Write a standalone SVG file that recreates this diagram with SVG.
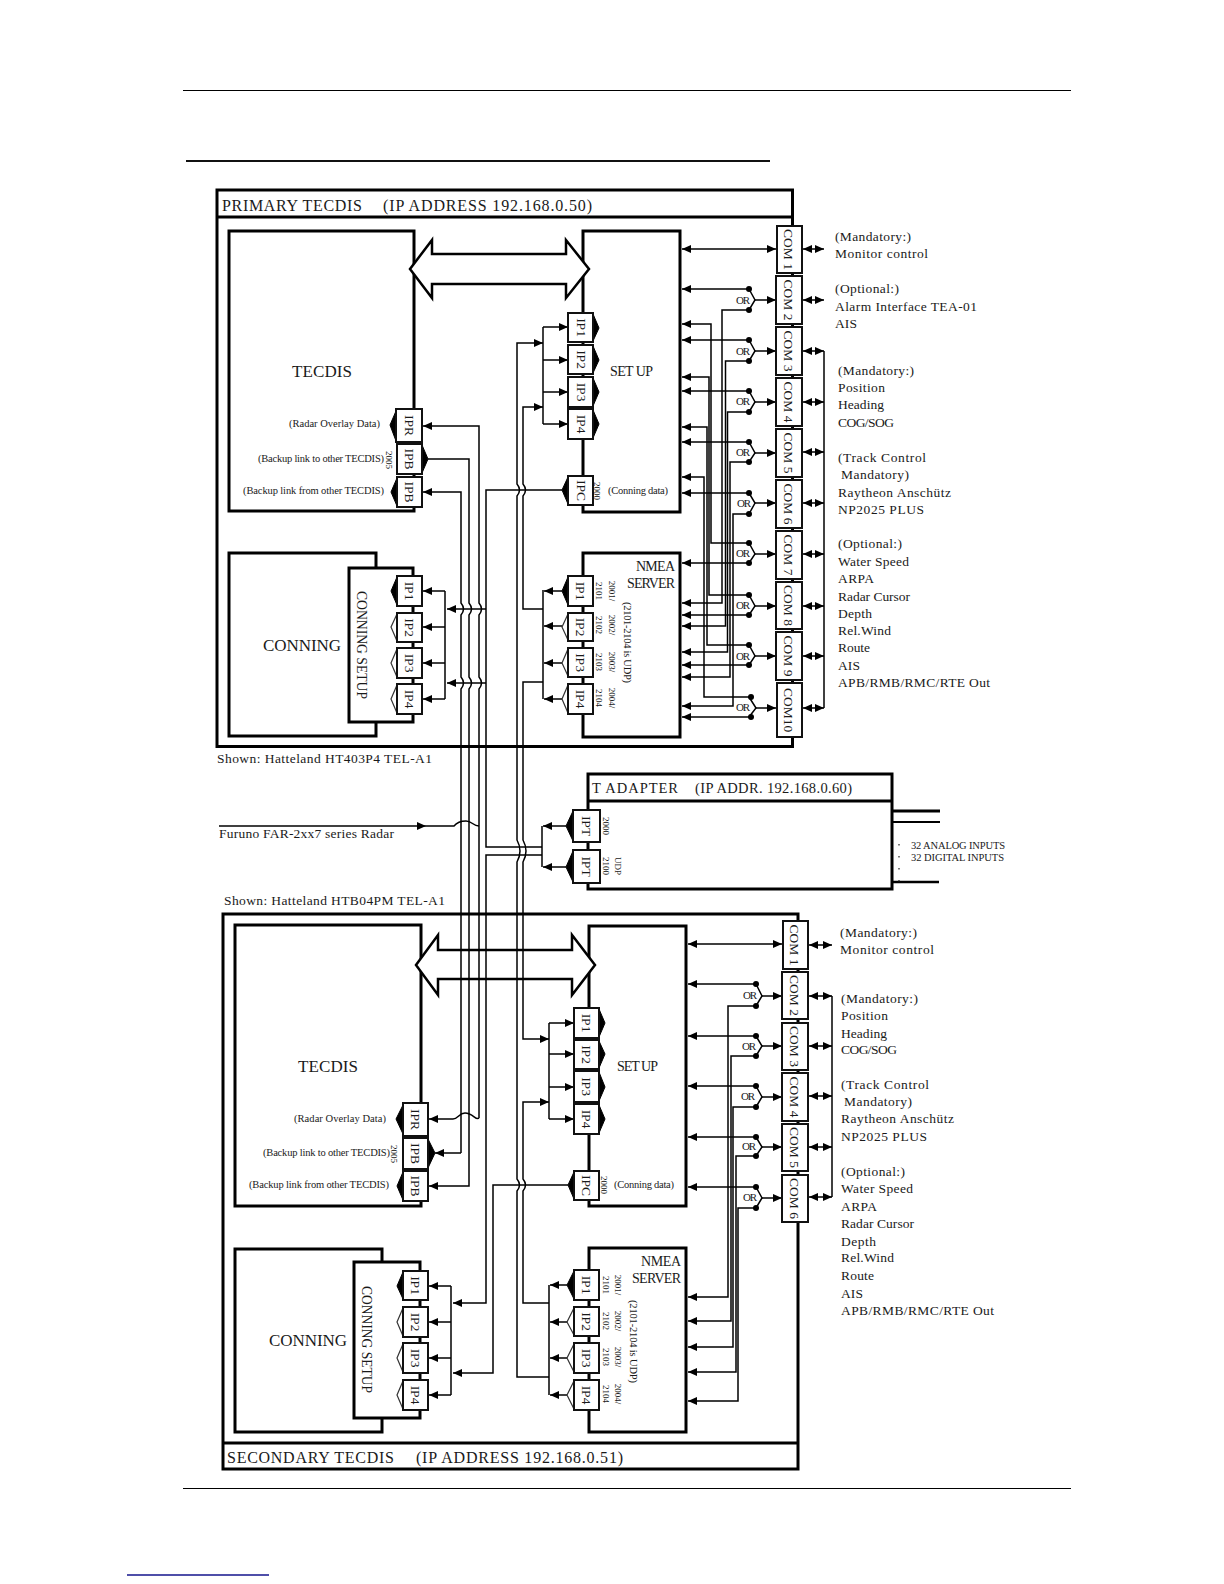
<svg xmlns="http://www.w3.org/2000/svg" width="1224" height="1584" viewBox="0 0 1224 1584">
<style>
text{font-family:"Liberation Serif","Times New Roman",serif;fill:#1a1a1a}
.box{fill:none;stroke:#000;stroke-width:3}
.wbox{fill:#fff;stroke:#000;stroke-width:3}
.port{fill:#fff;stroke:#111;stroke-width:2}
.tip{fill:#000;stroke:#000;stroke-width:1}
.wtip{fill:#fff;stroke:#333;stroke-width:1.2}
.com{fill:#fff;stroke:#111;stroke-width:2}
.c{fill:none;stroke:#000;stroke-width:1.5}
.a{marker-end:url(#arr)}
.d{marker-start:url(#arr);marker-end:url(#arr)}
.dbl{fill:#fff;stroke:#000;stroke-width:2.5}
.dot{fill:#000}
.title{font-size:16px}
.ttl2{font-size:14.5px}
.big{font-size:17px}
.mid{font-size:14px}
.lab{font-size:13.5px;text-anchor:middle}
.note{font-size:13.5px}
.sm{font-size:10.5px}
.tiny{font-size:9px;text-anchor:middle}
.or{font-size:11px}
</style>
<defs>
<marker id="arr" viewBox="0 0 9 8" refX="9" refY="4" markerWidth="9" markerHeight="8" markerUnits="userSpaceOnUse" orient="auto-start-reverse"><path d="M0 0L9 4L0 8z" fill="#000"/></marker>
</defs>

<g id="page-rules">
<path d="M183 90.500H1071" stroke="#000" stroke-width="1"/>
<path d="M186 161H770" stroke="#111" stroke-width="2"/>
<path d="M183 1488.500H1071" stroke="#000" stroke-width="1"/>
<path d="M127 1575H269" stroke="#14148c" stroke-width="1.5"/>
</g>

<g id="primary-frame">
<rect class="box" x="217" y="190" width="575.500" height="556.500"/>
<path class="box" d="M217 217H792.500"/>
<text class="title" x="222" y="211" textLength="140">PRIMARY TECDIS</text>
<text class="title" x="383" y="211" textLength="209">(IP ADDRESS 192.168.0.50)</text>
</g>
<g id="secondary-frame">
<rect class="box" x="223" y="914" width="575" height="555"/>
<path class="box" d="M223 1443H798"/>
<text class="title" x="227" y="1463" textLength="167">SECONDARY TECDIS</text>
<text class="title" x="416" y="1463" textLength="207">(IP ADDRESS 192.168.0.51)</text>
</g>
<g id="t-adapter">
<rect class="box" x="588" y="774" width="304" height="115"/>
<path class="box" d="M588 801H892"/>
<text class="ttl2" x="592" y="793" textLength="86">T ADAPTER</text>
<text class="ttl2" x="695" y="793" textLength="157">(IP ADDR. 192.168.0.60)</text>
<path d="M892 811H940" stroke="#000" stroke-width="3"/>
<path d="M892 822H940" stroke="#000" stroke-width="2"/>
<path d="M892 882H939" stroke="#000" stroke-width="2.500"/>
<path d="M899 844V889" stroke="#222" stroke-width="1.200" stroke-dasharray="1.500 10.500"/>
<text x="911" y="848.500" font-size="10.500" textLength="94">32 ANALOG INPUTS</text>
<text x="911" y="861" font-size="10.500" textLength="93">32 DIGITAL INPUTS</text>
</g>

<g id="captions">
<text class="note" x="217" y="763" textLength="215">Shown: Hatteland HT403P4 TEL-A1</text>
<text class="note" x="219" y="838" textLength="175">Furuno FAR-2xx7 series Radar</text>
<text class="note" x="224" y="905" textLength="221">Shown: Hatteland HTB04PM TEL-A1</text>
</g>

<g id="primary-tecdis">
<rect class="box" x="229" y="231" width="185" height="280"/>
<text class="big" x="292" y="377" textLength="60">TECDIS</text>
<text class="sm" x="289" y="427" textLength="91">(Radar Overlay Data)</text>
<text class="sm" x="258" y="462" textLength="126">(Backup link to other TECDIS)</text>
<text class="sm" x="243" y="494" textLength="141">(Backup link from other TECDIS)</text>
<text class="tiny" transform="translate(386 460) rotate(90)">2005</text>
</g>
<g id="primary-setup">
<rect class="box" x="583" y="231" width="97" height="281"/>
<text class="mid" x="610" y="376" textLength="43">SET UP</text>
<text class="sm" x="608" y="494" textLength="60">(Conning data)</text>
<text class="tiny" transform="translate(594 491) rotate(90)">2000</text>
</g>
<g id="primary-conning">
<path class="box" d="M376 568V553H229V736H376V722"/>
<text class="big" x="263" y="651" textLength="78">CONNING</text>
</g>
<g id="primary-conning-setup">
<rect class="box" x="349" y="568" width="64" height="154"/>
<text class="mid" text-anchor="start" transform="translate(357 591) rotate(90)" textLength="108" lengthAdjust="spacingAndGlyphs">CONNING SETUP</text>
</g>
<g id="primary-nmea">
<rect class="box" x="583" y="553" width="97" height="184"/>
<text class="mid" x="636" y="571" textLength="39">NMEA</text>
<text class="mid" x="627" y="588" textLength="48">SERVER</text>
<text class="sm" transform="translate(624 602) rotate(90)" textLength="81">(2101-2104 is UDP)</text>
<text class="tiny" transform="translate(596 591) rotate(90)">2101</text>
<text class="tiny" transform="translate(609 591) rotate(90)">2001/</text>
<text class="tiny" transform="translate(596 625) rotate(90)">2102</text>
<text class="tiny" transform="translate(609 625) rotate(90)">2002/</text>
<text class="tiny" transform="translate(596 662) rotate(90)">2103</text>
<text class="tiny" transform="translate(609 662) rotate(90)">2003/</text>
<text class="tiny" transform="translate(596 698) rotate(90)">2104</text>
<text class="tiny" transform="translate(609 698) rotate(90)">2004/</text>
</g>

<g id="secondary-tecdis">
<rect class="box" x="235" y="925" width="186" height="281"/>
<text class="big" x="298" y="1072" textLength="60">TECDIS</text>
<text class="sm" x="294" y="1122" textLength="92">(Radar Overlay Data)</text>
<text class="sm" x="263" y="1156" textLength="127">(Backup link to other TECDIS)</text>
<text class="sm" x="249" y="1188" textLength="140">(Backup link from other TECDIS)</text>
<text class="tiny" transform="translate(391 1154) rotate(90)">2005</text>
</g>
<g id="secondary-setup">
<rect class="box" x="589" y="926" width="97" height="280"/>
<text class="mid" x="617" y="1071" textLength="41">SET UP</text>
<text class="sm" x="614" y="1188" textLength="60">(Conning data)</text>
<text class="tiny" transform="translate(601 1185) rotate(90)">2000</text>
</g>
<g id="secondary-conning">
<path class="box" d="M382 1262V1249H235V1432H382V1418"/>
<text class="big" x="269" y="1346" textLength="78">CONNING</text>
</g>
<g id="secondary-conning-setup">
<rect class="box" x="354" y="1262" width="66" height="156"/>
<text class="mid" text-anchor="start" transform="translate(362 1286) rotate(90)" textLength="107" lengthAdjust="spacingAndGlyphs">CONNING SETUP</text>
</g>
<g id="secondary-nmea">
<rect class="box" x="589" y="1248" width="97" height="184"/>
<text class="mid" x="641" y="1266" textLength="40">NMEA</text>
<text class="mid" x="632" y="1283" textLength="49">SERVER</text>
<text class="sm" transform="translate(630 1300) rotate(90)" textLength="83">(2101-2104 is UDP)</text>
<text class="tiny" transform="translate(603 1285) rotate(90)">2101</text>
<text class="tiny" transform="translate(615 1285) rotate(90)">2001/</text>
<text class="tiny" transform="translate(603 1321) rotate(90)">2102</text>
<text class="tiny" transform="translate(615 1321) rotate(90)">2002/</text>
<text class="tiny" transform="translate(603 1357) rotate(90)">2103</text>
<text class="tiny" transform="translate(615 1357) rotate(90)">2003/</text>
<text class="tiny" transform="translate(603 1394) rotate(90)">2104</text>
<text class="tiny" transform="translate(615 1394) rotate(90)">2004/</text>
</g>

<g id="connectors">
<polygon class="dbl" points="410,269 432,240 432,254 566,254 566,240 589,269 566,298 566,284 432,284 432,298"/>
<polygon class="dbl" points="416,965 438,935 438,950 572,950 572,935 595,965 572,995 572,979 438,979 438,995"/>

<!-- long verticals -->
<path class="c a" d="M549 1377H517V1191q5 -6 0 -12V862q6 -11 0 -22V496q5 -6 0 -12V343H543"/>
<path class="c a" d="M543 609H523V496q5 -6 0 -12V407H543"/>
<path class="c a" d="M543 682H523V840q6 11 0 22V1039H549"/>
<path class="c a" d="M549 1303H523V1191q5 -6 0 -12V1102H549"/>
<path class="c" d="M428 459H469V603q5 6 0 12V677q5 6 0 12V1186H440"/>
<path class="c a" d="M440 1186H429"/>
<path class="c a" d="M461 1153H435"/>
<path class="c a" d="M461 1153V689q5 -6 0 -12V615q5 -6 0 -12V492H423"/>
<path class="c a" d="M479 1118C476 1121 473 1113 465 1113C459 1113 458 1119 453 1119H429"/>
<path class="c a" d="M479 1118V689q5 -6 0 -12V615q5 -6 0 -12V426H423"/>
<path class="c" d="M562 490H486V847H542"/>
<path class="c a" d="M486 609H447"/>
<path class="c a" d="M486 683H447"/>
<path class="c a" d="M542 855H486V1303H453"/>
<path class="c a" d="M568 1185H493V1373H453"/>
<path class="c a" d="M219 826H426"/>
<path class="c" d="M426 826H454C458 821 463 821 466 821C472 821 473 826 479 826"/>

<!-- primary setup bus -->
<path class="c" d="M543 327V424"/>
<path class="c a" d="M543 327H568"/>
<path class="c a" d="M543 360H568"/>
<path class="c a" d="M543 392H568"/>
<path class="c a" d="M543 424H568"/>
<!-- primary conning bus -->
<path class="c" d="M445 591V699"/>
<path class="c a" d="M445 591H423"/>
<path class="c a" d="M445 627H423"/>
<path class="c a" d="M445 663H423"/>
<path class="c a" d="M445 699H423"/>
<!-- primary nmea bus -->
<path class="c" d="M543 590V699"/>
<path class="c a" d="M562 591H544"/>
<path class="c a" d="M562 626H544"/>
<path class="c a" d="M562 663H544"/>
<path class="c a" d="M562 699H544"/>
<!-- t adapter bus -->
<path class="c" d="M542 826V867"/>
<path class="c a" d="M566 826H543"/>
<path class="c a" d="M566 867H543"/>
<!-- secondary setup bus -->
<path class="c" d="M549 1023V1119"/>
<path class="c a" d="M549 1023H574"/>
<path class="c a" d="M549 1054H574"/>
<path class="c a" d="M549 1087H574"/>
<path class="c a" d="M549 1119H574"/>
<!-- secondary conning bus -->
<path class="c" d="M451 1286V1395"/>
<path class="c a" d="M451 1286H429"/>
<path class="c a" d="M451 1322H429"/>
<path class="c a" d="M451 1358H429"/>
<path class="c a" d="M451 1395H429"/>
<!-- secondary nmea bus -->
<path class="c" d="M549 1285V1395"/>
<path class="c a" d="M567 1285H550"/>
<path class="c a" d="M567 1322H550"/>
<path class="c a" d="M567 1358H550"/>
<path class="c a" d="M567 1395H550"/>

<!-- primary com side -->
<path class="c d" d="M682 249H776"/>
<path class="c a" d="M749 289H682"/>
<path class="c a" d="M749 340H682"/>
<path class="c a" d="M749 391H682"/>
<path class="c a" d="M749 442H682"/>
<path class="c a" d="M749 493H682"/>
<path class="c a" d="M749 563H682"/>
<path class="c a" d="M749 615H682"/>
<path class="c a" d="M749 665H682"/>
<path class="c a" d="M749 717H682"/>
<path class="c a" d="M749 310H722V603H682"/>
<path class="c a" d="M749 361H725.500V626H682"/>
<path class="c a" d="M749 412H727.500V652H682"/>
<path class="c a" d="M749 462H730V677H682"/>
<path class="c a" d="M749 514H733V706H682"/>
<path class="c a" d="M749 543H711V324H682"/>
<path class="c a" d="M749 595H709V377H682"/>
<path class="c a" d="M749 645H707V427H682"/>
<path class="c a" d="M749 697H704V477H682"/>
<path class="c" d="M749 289L755 300L749 310"/><path class="c a" d="M755 300H776"/>
<path class="c" d="M749 340L755 351L749 361"/><path class="c a" d="M755 351H776"/>
<path class="c" d="M749 391L755 402L749 412"/><path class="c a" d="M755 402H776"/>
<path class="c" d="M749 442L755 453L749 462"/><path class="c a" d="M755 453H776"/>
<path class="c" d="M749 493L755 503L749 514"/><path class="c a" d="M755 503H776"/>
<path class="c" d="M749 543L755 554L749 563"/><path class="c a" d="M755 554H776"/>
<path class="c" d="M749 595L755 606L749 615"/><path class="c a" d="M755 606H776"/>
<path class="c" d="M749 645L755 656L749 665"/><path class="c a" d="M755 656H776"/>
<path class="c" d="M749 697L756 708L749 717"/><path class="c a" d="M756 708H776"/>
<g class="dot">
<circle cx="749" cy="289" r="3"/><circle cx="749" cy="310" r="3"/>
<circle cx="749" cy="340" r="3"/><circle cx="749" cy="361" r="3"/>
<circle cx="749" cy="391" r="3"/><circle cx="749" cy="412" r="3"/>
<circle cx="749" cy="442" r="3"/><circle cx="749" cy="462" r="3"/>
<circle cx="749" cy="493" r="3"/><circle cx="749" cy="514" r="3"/>
<circle cx="749" cy="543" r="3"/><circle cx="749" cy="563" r="3"/>
<circle cx="749" cy="595" r="3"/><circle cx="749" cy="615" r="3"/>
<circle cx="749" cy="645" r="3"/><circle cx="749" cy="665" r="3"/>
<circle cx="751" cy="697" r="3"/><circle cx="751" cy="717" r="3"/>
</g>
<path class="c d" d="M803 249H824"/>
<path class="c d" d="M803 300H824"/>
<path class="c d" d="M803 351H824"/>
<path class="c d" d="M803 402H824"/>
<path class="c d" d="M803 452H824"/>
<path class="c d" d="M803 503H824"/>
<path class="c d" d="M803 554H824"/>
<path class="c d" d="M803 606H824"/>
<path class="c d" d="M803 656H824"/>
<path class="c d" d="M803 708H824"/>
<path class="c" d="M824 351V708"/>

<!-- secondary com side -->
<path class="c d" d="M688 944H782"/>
<path class="c a" d="M756 984H688"/>
<path class="c a" d="M756 1036H688"/>
<path class="c a" d="M756 1086H688"/>
<path class="c a" d="M756 1137H688"/>
<path class="c a" d="M756 1187H688"/>
<path class="c a" d="M756 1006H728V1297H688"/>
<path class="c a" d="M756 1056H731V1321H688"/>
<path class="c a" d="M756 1107H733V1347H688"/>
<path class="c a" d="M756 1156H736V1372H688"/>
<path class="c a" d="M756 1208H738V1401H688"/>
<path class="c" d="M756 984L762 996L756 1006"/><path class="c a" d="M762 996H782"/>
<path class="c" d="M756 1036L762 1046L756 1056"/><path class="c a" d="M762 1046H782"/>
<path class="c" d="M756 1086L762 1097L756 1107"/><path class="c a" d="M762 1097H782"/>
<path class="c" d="M756 1137L762 1147L756 1156"/><path class="c a" d="M762 1147H782"/>
<path class="c" d="M756 1187L762 1198L756 1208"/><path class="c a" d="M762 1198H782"/>
<g class="dot">
<circle cx="756" cy="984" r="3"/><circle cx="756" cy="1006" r="3"/>
<circle cx="756" cy="1036" r="3"/><circle cx="756" cy="1056" r="3"/>
<circle cx="756" cy="1086" r="3"/><circle cx="756" cy="1107" r="3"/>
<circle cx="756" cy="1137" r="3"/><circle cx="756" cy="1156" r="3"/>
<circle cx="756" cy="1187" r="3"/><circle cx="756" cy="1208" r="3"/>
</g>
<path class="c d" d="M809 945H832"/>
<path class="c d" d="M809 996H832"/>
<path class="c d" d="M809 1046H832"/>
<path class="c d" d="M809 1096H832"/>
<path class="c d" d="M809 1147H832"/>
<path class="c d" d="M809 1197H832"/>
<path class="c" d="M832 996V1197"/>
</g>

<g id="or-labels">
<text class="or" x="736" y="304" textLength="14">OR</text>
<text class="or" x="736" y="355" textLength="14">OR</text>
<text class="or" x="736" y="405" textLength="14">OR</text>
<text class="or" x="736" y="456" textLength="14">OR</text>
<text class="or" x="737" y="507" textLength="14">OR</text>
<text class="or" x="736" y="557" textLength="14">OR</text>
<text class="or" x="736" y="609" textLength="14">OR</text>
<text class="or" x="736" y="660" textLength="14">OR</text>
<text class="or" x="736" y="711" textLength="14">OR</text>
<text class="or" x="743" y="999" textLength="14">OR</text>
<text class="or" x="742" y="1050" textLength="14">OR</text>
<text class="or" x="741" y="1100" textLength="14">OR</text>
<text class="or" x="742" y="1150" textLength="14">OR</text>
<text class="or" x="743" y="1201" textLength="14">OR</text>
</g>

<!-- primary setup ports -->
<g id="p-setup-ip1"><polygon class="tip" points="593,314 599,328 593,341"/><rect class="port" x="568" y="313" width="25" height="29"/><text class="lab" transform="translate(577 327.500) rotate(90)">IP1</text></g>
<g id="p-setup-ip2"><polygon class="tip" points="593,346 599,360 593,373"/><rect class="port" x="568" y="345" width="25" height="29"/><text class="lab" transform="translate(577 359.500) rotate(90)">IP2</text></g>
<g id="p-setup-ip3"><polygon class="tip" points="593,378 599,392 593,406"/><rect class="port" x="568" y="377" width="25" height="30"/><text class="lab" transform="translate(577 392) rotate(90)">IP3</text></g>
<g id="p-setup-ip4"><polygon class="tip" points="593,410 599,424 593,438"/><rect class="port" x="568" y="409" width="25" height="30"/><text class="lab" transform="translate(577 424) rotate(90)">IP4</text></g>
<g id="p-setup-ipc"><polygon class="tip" points="568,477 562,490 568,504"/><rect class="port" x="568" y="476" width="25" height="29"/><text class="lab" transform="translate(577 490.500) rotate(90)">IPC</text></g>
<!-- primary tecdis ports -->
<g id="p-ipr"><polygon class="tip" points="396,411 390,425 396,441"/><rect class="port" x="396" y="409" width="26" height="33"/><text class="lab" transform="translate(404.500 425.500) rotate(90)">IPR</text></g>
<g id="p-ipb-out"><polygon class="tip" points="422,445 428,459 422,473"/><rect class="port" x="397" y="444" width="25" height="30"/><text class="lab" transform="translate(405 459) rotate(90)">IPB</text></g>
<g id="p-ipb-in"><polygon class="tip" points="397,478 391,492 397,506"/><rect class="port" x="397" y="477" width="25" height="30"/><text class="lab" transform="translate(405 492) rotate(90)">IPB</text></g>
<!-- primary conning ports -->
<g id="p-con-ip1"><polygon class="tip" points="397,577 391,591 397,605"/><rect class="port" x="397" y="576" width="25" height="30"/><text class="lab" transform="translate(405 591) rotate(90)">IP1</text></g>
<g id="p-con-ip2"><polygon class="wtip" points="397,614 391,627 397,641"/><rect class="port" x="397" y="613" width="25" height="29"/><text class="lab" transform="translate(405 627.500) rotate(90)">IP2</text></g>
<g id="p-con-ip3"><polygon class="wtip" points="397,649 391,663 397,677"/><rect class="port" x="397" y="648" width="25" height="30"/><text class="lab" transform="translate(405 663) rotate(90)">IP3</text></g>
<g id="p-con-ip4"><polygon class="wtip" points="397,685 391,699 397,713"/><rect class="port" x="397" y="684" width="25" height="30"/><text class="lab" transform="translate(405 699) rotate(90)">IP4</text></g>
<!-- primary nmea ports -->
<g id="p-nmea-ip1"><polygon class="tip" points="568,577 562,591 568,605"/><rect class="port" x="568" y="576" width="25" height="30"/><text class="lab" transform="translate(576 591) rotate(90)">IP1</text></g>
<g id="p-nmea-ip2"><polygon class="wtip" points="568,614 562,627 568,640"/><rect class="port" x="568" y="613" width="25" height="28"/><text class="lab" transform="translate(576 627) rotate(90)">IP2</text></g>
<g id="p-nmea-ip3"><polygon class="wtip" points="568,649 562,663 568,676"/><rect class="port" x="568" y="648" width="25" height="29"/><text class="lab" transform="translate(576 662.500) rotate(90)">IP3</text></g>
<g id="p-nmea-ip4"><polygon class="wtip" points="568,685 562,699 568,713"/><rect class="port" x="568" y="684" width="25" height="30"/><text class="lab" transform="translate(576 699) rotate(90)">IP4</text></g>
<!-- t adapter ports -->
<g id="t-ipt1"><polygon class="tip" points="573,811 566,826 573,841"/><rect class="port" x="573" y="810" width="27" height="32"/><text class="lab" transform="translate(582 826) rotate(90)">IPT</text><text class="tiny" transform="translate(603 826) rotate(90)">2000</text></g>
<g id="t-ipt2"><polygon class="tip" points="573,851 566,867 573,882"/><rect class="port" x="573" y="850" width="27" height="33"/><text class="lab" transform="translate(582 866.500) rotate(90)">IPT</text><text class="tiny" transform="translate(603 866) rotate(90)">2100</text><text class="tiny" transform="translate(615 866) rotate(90)">UDP</text></g>

<!-- secondary setup ports -->
<g id="s-setup-ip1"><polygon class="tip" points="599,1009 605,1023 599,1037"/><rect class="port" x="574" y="1008" width="25" height="30"/><text class="lab" transform="translate(582 1023) rotate(90)">IP1</text></g>
<g id="s-setup-ip2"><polygon class="tip" points="599,1041 605,1054 599,1068"/><rect class="port" x="574" y="1040" width="25" height="29"/><text class="lab" transform="translate(582 1054.500) rotate(90)">IP2</text></g>
<g id="s-setup-ip3"><polygon class="tip" points="599,1072 605,1087 599,1101"/><rect class="port" x="574" y="1071" width="25" height="31"/><text class="lab" transform="translate(582 1086.500) rotate(90)">IP3</text></g>
<g id="s-setup-ip4"><polygon class="tip" points="599,1105 605,1119 599,1133"/><rect class="port" x="574" y="1104" width="25" height="30"/><text class="lab" transform="translate(582 1119) rotate(90)">IP4</text></g>
<g id="s-setup-ipc"><polygon class="tip" points="574,1172 568,1185 574,1199"/><rect class="port" x="574" y="1171" width="25" height="29"/><text class="lab" transform="translate(582 1185.500) rotate(90)">IPC</text></g>
<!-- secondary tecdis ports -->
<g id="s-ipr"><polygon class="tip" points="403,1105 396,1119 403,1134"/><rect class="port" x="403" y="1103" width="25" height="33"/><text class="lab" transform="translate(411 1119.500) rotate(90)">IPR</text></g>
<g id="s-ipb-out"><polygon class="tip" points="428,1139 435,1153 428,1168"/><rect class="port" x="403" y="1138" width="25" height="31"/><text class="lab" transform="translate(411 1153.500) rotate(90)">IPB</text></g>
<g id="s-ipb-in"><polygon class="tip" points="403,1172 397,1186 403,1200"/><rect class="port" x="403" y="1171" width="25" height="30"/><text class="lab" transform="translate(411 1186) rotate(90)">IPB</text></g>
<!-- secondary conning ports -->
<g id="s-con-ip1"><polygon class="tip" points="403,1272 397,1286 403,1299"/><rect class="port" x="403" y="1271" width="25" height="29"/><text class="lab" transform="translate(411 1285.500) rotate(90)">IP1</text></g>
<g id="s-con-ip2"><polygon class="wtip" points="403,1308 397,1322 403,1336"/><rect class="port" x="403" y="1307" width="25" height="30"/><text class="lab" transform="translate(411 1322) rotate(90)">IP2</text></g>
<g id="s-con-ip3"><polygon class="wtip" points="403,1344 397,1358 403,1372"/><rect class="port" x="403" y="1343" width="25" height="30"/><text class="lab" transform="translate(411 1358) rotate(90)">IP3</text></g>
<g id="s-con-ip4"><polygon class="wtip" points="403,1381 397,1395 403,1409"/><rect class="port" x="403" y="1380" width="25" height="30"/><text class="lab" transform="translate(411 1395) rotate(90)">IP4</text></g>
<!-- secondary nmea ports -->
<g id="s-nmea-ip1"><polygon class="tip" points="574,1271 567,1285 574,1299"/><rect class="port" x="574" y="1270" width="25" height="30"/><text class="lab" transform="translate(582 1285) rotate(90)">IP1</text></g>
<g id="s-nmea-ip2"><polygon class="wtip" points="574,1308 567,1322 574,1335"/><rect class="port" x="574" y="1307" width="25" height="29"/><text class="lab" transform="translate(582 1321.500) rotate(90)">IP2</text></g>
<g id="s-nmea-ip3"><polygon class="wtip" points="574,1344 567,1358 574,1372"/><rect class="port" x="574" y="1343" width="25" height="30"/><text class="lab" transform="translate(582 1358) rotate(90)">IP3</text></g>
<g id="s-nmea-ip4"><polygon class="wtip" points="574,1381 567,1395 574,1409"/><rect class="port" x="574" y="1380" width="25" height="30"/><text class="lab" transform="translate(582 1395) rotate(90)">IP4</text></g>

<!-- primary COM -->
<g id="p-com1"><rect class="com" x="777" y="226" width="25" height="47"/><text class="lab" transform="translate(784 249.500) rotate(90)">COM 1</text></g>
<g id="p-com2"><rect class="com" x="776" y="276" width="26" height="48"/><text class="lab" transform="translate(784 300) rotate(90)">COM 2</text></g>
<g id="p-com3"><rect class="com" x="776" y="327" width="26" height="48"/><text class="lab" transform="translate(784 351) rotate(90)">COM 3</text></g>
<g id="p-com4"><rect class="com" x="776" y="378" width="26" height="48"/><text class="lab" transform="translate(784 402) rotate(90)">COM 4</text></g>
<g id="p-com5"><rect class="com" x="776" y="429" width="26" height="48"/><text class="lab" transform="translate(784 453) rotate(90)">COM 5</text></g>
<g id="p-com6"><rect class="com" x="776" y="480" width="26" height="48"/><text class="lab" transform="translate(784 504) rotate(90)">COM 6</text></g>
<g id="p-com7"><rect class="com" x="776" y="531" width="26" height="48"/><text class="lab" transform="translate(784 555) rotate(90)">COM 7</text></g>
<g id="p-com8"><rect class="com" x="776" y="582" width="26" height="47"/><text class="lab" transform="translate(784 605.500) rotate(90)">COM 8</text></g>
<g id="p-com9"><rect class="com" x="776" y="632" width="26" height="48"/><text class="lab" transform="translate(784 656) rotate(90)">COM 9</text></g>
<g id="p-com10"><rect class="com" x="777" y="683" width="25" height="54"/><text class="lab" transform="translate(784 710) rotate(90)">COM10</text></g>
<!-- secondary COM -->
<g id="s-com1"><rect class="com" x="783" y="921" width="25" height="48"/><text class="lab" transform="translate(790 945) rotate(90)">COM 1</text></g>
<g id="s-com2"><rect class="com" x="782" y="972" width="26" height="47"/><text class="lab" transform="translate(790 995.500) rotate(90)">COM 2</text></g>
<g id="s-com3"><rect class="com" x="782" y="1023" width="26" height="47"/><text class="lab" transform="translate(790 1046.500) rotate(90)">COM 3</text></g>
<g id="s-com4"><rect class="com" x="782" y="1073" width="26" height="48"/><text class="lab" transform="translate(790 1097) rotate(90)">COM 4</text></g>
<g id="s-com5"><rect class="com" x="782" y="1124" width="26" height="47"/><text class="lab" transform="translate(790 1147.500) rotate(90)">COM 5</text></g>
<g id="s-com6"><rect class="com" x="782" y="1175" width="26" height="47"/><text class="lab" transform="translate(790 1198.500) rotate(90)">COM 6</text></g>

<g id="primary-notes">
<text class="note" x="835" y="241" textLength="76">(Mandatory:)</text>
<text class="note" x="835" y="258" textLength="93">Monitor control</text>
<text class="note" x="835" y="293" textLength="64">(Optional:)</text>
<text class="note" x="835" y="311" textLength="142">Alarm Interface TEA-01</text>
<text class="note" x="835" y="328" textLength="22">AIS</text>
<text class="note" x="838" y="375" textLength="76">(Mandatory:)</text>
<text class="note" x="838" y="392" textLength="47">Position</text>
<text class="note" x="838" y="409" textLength="46">Heading</text>
<text class="note" x="838" y="427" textLength="56">COG/SOG</text>
<text class="note" x="838" y="462" textLength="88">(Track Control</text>
<text class="note" x="841" y="479" textLength="68">Mandatory)</text>
<text class="note" x="838" y="497" textLength="113">Raytheon Anschütz</text>
<text class="note" x="838" y="514" textLength="86">NP2025 PLUS</text>
<text class="note" x="838" y="548" textLength="64">(Optional:)</text>
<text class="note" x="838" y="566" textLength="71">Water Speed</text>
<text class="note" x="838" y="583" textLength="36">ARPA</text>
<text class="note" x="838" y="601" textLength="72">Radar Cursor</text>
<text class="note" x="838" y="618" textLength="34">Depth</text>
<text class="note" x="838" y="635" textLength="53">Rel.Wind</text>
<text class="note" x="838" y="652" textLength="32">Route</text>
<text class="note" x="838" y="670" textLength="22">AIS</text>
<text class="note" x="838" y="687" textLength="152">APB/RMB/RMC/RTE  Out</text>
</g>
<g id="secondary-notes">
<text class="note" x="840" y="937" textLength="77">(Mandatory:)</text>
<text class="note" x="840" y="954" textLength="94">Monitor control</text>
<text class="note" x="841" y="1003" textLength="77">(Mandatory:)</text>
<text class="note" x="841" y="1020" textLength="47">Position</text>
<text class="note" x="841" y="1037.500" textLength="46">Heading</text>
<text class="note" x="841" y="1053.500" textLength="56">COG/SOG</text>
<text class="note" x="841" y="1088.500" textLength="88">(Track Control</text>
<text class="note" x="844" y="1106" textLength="68">Mandatory)</text>
<text class="note" x="841" y="1123" textLength="113">Raytheon Anschütz</text>
<text class="note" x="841" y="1141" textLength="86">NP2025 PLUS</text>
<text class="note" x="841" y="1176" textLength="64">(Optional:)</text>
<text class="note" x="841" y="1193" textLength="72">Water Speed</text>
<text class="note" x="841" y="1211" textLength="36">ARPA</text>
<text class="note" x="841" y="1228" textLength="73">Radar Cursor</text>
<text class="note" x="841" y="1246" textLength="35">Depth</text>
<text class="note" x="841" y="1262" textLength="53">Rel.Wind</text>
<text class="note" x="841" y="1280" textLength="33">Route</text>
<text class="note" x="841" y="1297.500" textLength="22">AIS</text>
<text class="note" x="841" y="1315" textLength="153">APB/RMB/RMC/RTE  Out</text>
</g>
</svg>
